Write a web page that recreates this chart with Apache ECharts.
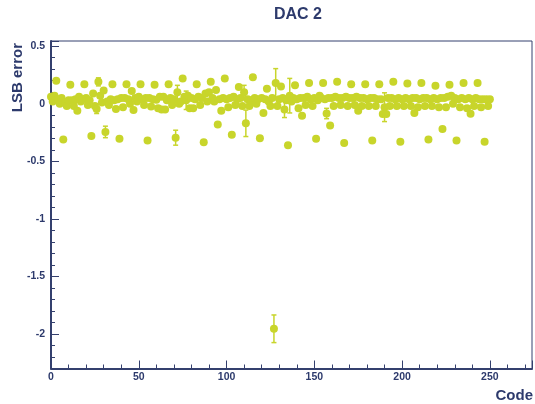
<!DOCTYPE html>
<html>
<head>
<meta charset="utf-8">
<script src="https://cdn.jsdelivr.net/npm/echarts@6/dist/echarts.min.js"></script>
<style>
html,body{margin:0;padding:0;background:#fff;}
#chart{width:535px;height:404px;}
</style>
</head>
<body>
<div id="chart"></div>
<script>
// LSB error for each DAC code (code = index, 0..250)
const lsbError = [
  0.06, 0.02, 0.07, 0.20, 0.04, 0.00, 0.05, -0.31,
  0.01, -0.02, 0.03, 0.165, 0.03, -0.02, 0.04, -0.06,
  0.06, 0.02, 0.04, 0.17, 0.05, -0.01, 0.03, -0.28,
  0.09, -0.02, -0.045, 0.19, 0.07, 0.01, 0.115, -0.245,
  0.02, -0.01, 0.04, 0.17, 0.03, -0.045, 0.04, -0.305,
  0.05, -0.03, 0.05, 0.17, 0.04, 0.00, 0.11, -0.055,
  0.05, 0.02, 0.06, 0.17, 0.04, -0.01, 0.05, -0.32,
  0.05, -0.025, 0.04, 0.165, 0.035, -0.04, 0.06, -0.05,
  0.06, -0.05, 0.03, 0.17, 0.05, -0.01, 0.04, -0.295,
  0.10, 0.00, 0.02, 0.22, 0.06, 0.03, 0.07, -0.04,
  0.05, -0.04, 0.04, 0.17, 0.06, -0.01, 0.05, -0.335,
  0.09, 0.02, 0.10, 0.19, 0.05, 0.02, 0.12, -0.18,
  0.04, -0.06, 0.05, 0.22, 0.04, -0.03, 0.05, -0.27,
  0.06, -0.01, 0.04, 0.145, 0.05, -0.02, 0.10, -0.17,
  0.04, -0.02, 0.03, 0.23, 0.05, 0.00, 0.04, -0.30,
  0.05, -0.08, 0.04, 0.13, 0.02, -0.02, 0.05, -1.955,
  0.18, -0.02, 0.04, 0.15, 0.05, -0.05, 0.03, -0.36,
  0.07, 0.02, 0.05, 0.16, 0.04, -0.04, 0.05, -0.105,
  0.05, -0.01, 0.06, 0.18, 0.04, -0.02, 0.05, -0.305,
  0.03, 0.07, 0.05, 0.18, 0.04, -0.085, 0.05, -0.19,
  0.05, -0.02, 0.06, 0.19, 0.05, -0.01, 0.05, -0.34,
  0.06, -0.02, 0.05, 0.17, 0.05, -0.01, 0.06, -0.06,
  0.05, -0.02, 0.05, 0.17, 0.04, -0.02, 0.05, -0.32,
  0.05, -0.02, 0.04, 0.17, 0.04, -0.09, -0.03, -0.09,
  0.05, -0.02, 0.05, 0.19, 0.04, -0.02, 0.05, -0.33,
  0.04, -0.02, 0.05, 0.175, 0.04, -0.02, 0.05, -0.08,
  0.05, -0.03, 0.04, 0.18, 0.05, -0.02, 0.05, -0.31,
  0.04, -0.02, 0.05, 0.157, 0.04, -0.03, 0.05, -0.22,
  0.05, -0.03, 0.06, 0.165, 0.07, 0.00, 0.05, -0.32,
  0.04, -0.03, 0.05, 0.18, 0.04, -0.04, 0.05, -0.087,
  0.04, -0.02, 0.05, 0.18, 0.04, -0.03, 0.04, -0.33,
  0.04, -0.02, 0.04
];
// codes with visible error bars and their half-sizes
const errCodes = [26, 27, 31, 71, 72, 77, 110, 111, 127, 128, 133, 136, 157, 190];
const errSizes = [0.04, 0.035, 0.05, 0.065, 0.06, 0.08, 0.06, 0.115, 0.12, 0.125, 0.07, 0.15, 0.045, 0.125];

const titleText = 'DAC 2';
const xTitle = 'Code';
const yTitle = 'LSB error';

const dotColor = '#c8d52b';
const axisColor = '#34406e';
const textColor = '#2d3a6c';
const fontFam = '"Liberation Sans", Arial, Helvetica, sans-serif';

const points = lsbError.map((v, i) => [i, v]);
const errData = errCodes.map((c, i) => [c, lsbError[c], errSizes[i]]);

const X_MIN = 0, X_MAX = 274, Y_MIN = -2.3, Y_MAX = 0.545;

const chart = echarts.init(document.getElementById('chart'), null, {renderer: 'canvas'});

const isHalf = v => Math.abs(v * 2 - Math.round(v * 2)) < 1e-6;

chart.setOption({
  animation: false,
  backgroundColor: '#fff',
  title: {
    text: titleText,
    left: 293, top: 2,
    textAlign: 'center',
    textStyle: {fontFamily: fontFam, fontWeight: 'bold', fontSize: 16, color: textColor}
  },
  grid: {
    left: 51, right: 2, top: 41, bottom: 35.5,
    show: true, borderColor: axisColor, borderWidth: 1, backgroundColor: 'transparent'
  },
  xAxis: [
    {
      type: 'value', min: X_MIN, max: X_MAX, interval: 10, position: 'bottom',
      axisLine: {show: true, onZero: false, lineStyle: {color: axisColor, width: 2}},
      axisTick: {show: true, inside: true, length: 4, lineStyle: {color: axisColor, width: 1}},
      axisLabel: {
        margin: 3, color: textColor, fontFamily: fontFam, fontWeight: 'bold', fontSize: 10.5,
        formatter: v => (Math.abs(v % 50) < 1e-6 ? String(v) : '')
      },
      splitLine: {show: false}
    },
    {
      type: 'value', min: X_MIN, max: X_MAX, interval: 50, position: 'bottom',
      axisLine: {show: false, onZero: false},
      axisTick: {show: true, inside: true, length: 8, lineStyle: {color: axisColor, width: 1}},
      axisLabel: {show: false},
      splitLine: {show: false}
    }
  ],
  yAxis: [
    {
      type: 'value', min: Y_MIN, max: Y_MAX, interval: 0.1, position: 'left',
      axisLine: {show: true, onZero: false, lineStyle: {color: axisColor, width: 2}},
      axisTick: {show: true, inside: true, length: 4, lineStyle: {color: axisColor, width: 1}},
      axisLabel: {
        margin: 6, color: textColor, fontFamily: fontFam, fontWeight: 'bold', fontSize: 10.5,
        formatter: v => (isHalf(v) ? String(+v.toFixed(1)) : '')
      },
      splitLine: {show: false}
    },
    {
      type: 'value', min: Y_MIN, max: Y_MAX, splitNumber: 5, position: 'left',
      axisLine: {show: false, onZero: false},
      axisTick: {show: true, inside: true, length: 8, lineStyle: {color: axisColor, width: 1}},
      axisLabel: {show: false},
      splitLine: {show: false}
    }
  ],
  graphic: [
    {
      type: 'text', x: 18, y: 43, rotation: Math.PI / 2,
      style: {text: yTitle, fill: textColor, font: 'bold 15px ' + fontFam, align: 'right', verticalAlign: 'middle'}
    },
    {
      type: 'text', x: 533, y: 396,
      style: {text: xTitle, fill: textColor, font: 'bold 15px ' + fontFam, align: 'right', verticalAlign: 'middle'}
    }
  ],
  series: [
    {
      type: 'custom',
      xAxisIndex: 0, yAxisIndex: 0,
      data: errData,
      renderItem: function (params, api) {
        const x = api.value(0), y = api.value(1), e = api.value(2);
        const top = api.coord([x, y + e]);
        const bot = api.coord([x, y - e]);
        const cap = 2.5;
        const st = {stroke: dotColor, lineWidth: 1.5};
        return {
          type: 'group',
          children: [
            {type: 'line', shape: {x1: top[0], y1: top[1], x2: bot[0], y2: bot[1]}, style: st},
            {type: 'line', shape: {x1: top[0] - cap, y1: top[1], x2: top[0] + cap, y2: top[1]}, style: st},
            {type: 'line', shape: {x1: bot[0] - cap, y1: bot[1], x2: bot[0] + cap, y2: bot[1]}, style: st}
          ]
        };
      },
      z: 2
    },
    {
      type: 'scatter',
      xAxisIndex: 0, yAxisIndex: 0,
      data: points,
      symbol: 'circle',
      symbolSize: 8,
      itemStyle: {color: dotColor, opacity: 1},
      z: 3
    }
  ]
});
</script>
</body>
</html>
